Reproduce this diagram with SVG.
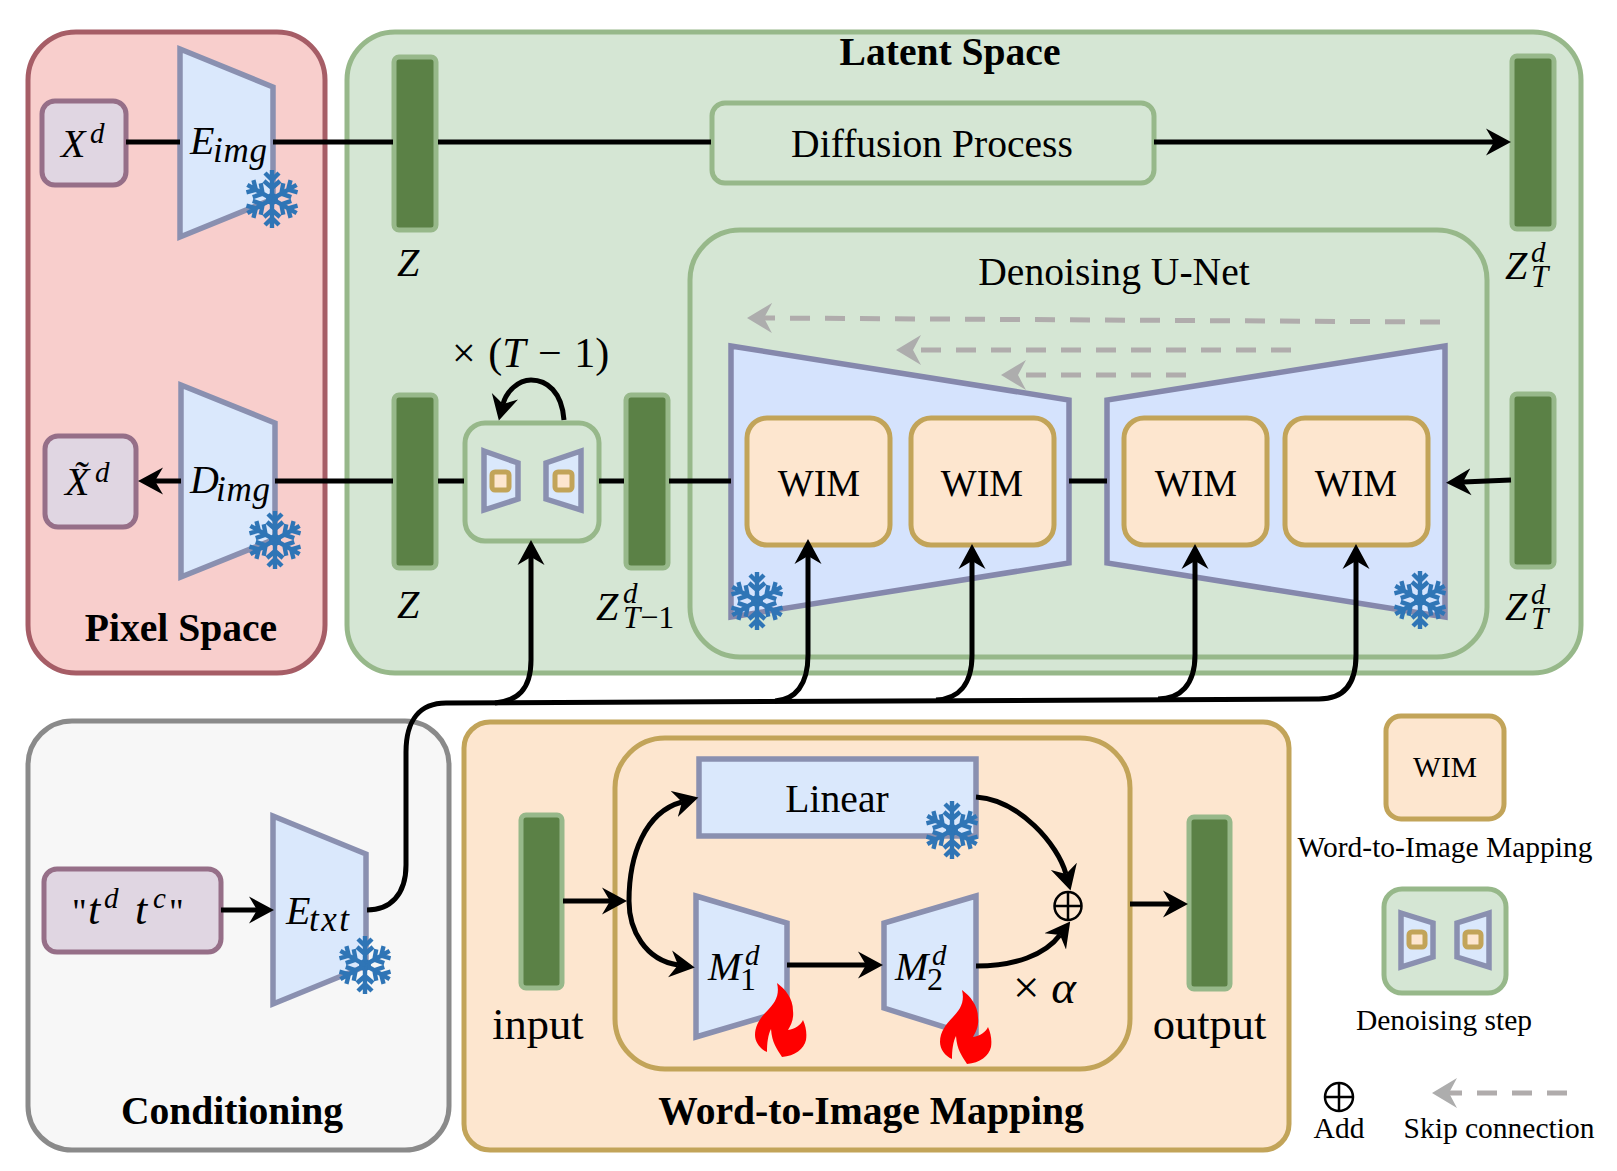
<svg xmlns="http://www.w3.org/2000/svg" width="1617" height="1171" viewBox="0 0 1617 1171">
<style>
text{font-family:"Liberation Serif","Times New Roman",serif;fill:#000}
.m{font-style:italic}
.r{font-style:normal}
.c{text-anchor:middle}
.b{font-weight:bold}
.t38{font-size:38px}.t395{font-size:39.6px}.t44{font-size:44.5px}.t29{font-size:29.5px}
.v{font-size:40px;font-style:italic}
.sup{font-size:29px}.sub{font-size:31px}.sub2{font-size:35px}
.bar{fill:#5B8146;stroke:#97B88A;stroke-width:5}
.trap{fill:#DAE8FC;stroke:#8A90B0;stroke-width:5.5;stroke-linejoin:miter}
.unet{fill:#D5E3FD;stroke:#8588AC;stroke-width:5.5}
.wim{fill:#FDE6CF;stroke:#C2A459;stroke-width:5}
.grn{fill:#D5E6D4;stroke:#97B88A;stroke-width:5}
.src{fill:#E0D6E2;stroke:#966F88;stroke-width:5}
.wire{fill:none;stroke:#000;stroke-width:5}
.arr{marker-end:url(#ah)}
.skip{fill:none;stroke:#B0ACAC;stroke-width:5;stroke-dasharray:20 15;marker-end:url(#gh)}
.plus{fill:none;stroke:#000;stroke-width:2.5}
</style>
<defs>
<marker id="ah" markerUnits="userSpaceOnUse" markerWidth="32" markerHeight="32" refX="8" refY="14" orient="auto"><path d="M0 0.5L25 14L0 27.5L8 14Z" fill="#000"/></marker>
<marker id="gh" markerUnits="userSpaceOnUse" markerWidth="32" markerHeight="34" refX="8" refY="15" orient="auto"><path d="M0 0L25 15L0 30L8 15Z" fill="#ADADAD"/></marker>
<g id="arm"><path d="M0 0V-29M0 -11L-8 -18M0 -11L8 -18M0 -19L-7 -26M0 -19L7 -26" fill="none" stroke="#2F75B6" stroke-width="4.4"/></g>
<g id="flake"><circle r="6" fill="#2F75B6"/><use href="#arm"/><use href="#arm" transform="rotate(60) scale(1 .98)"/><use href="#arm" transform="rotate(120) scale(1 .98)"/><use href="#arm" transform="rotate(180)"/><use href="#arm" transform="rotate(240) scale(1 .98)"/><use href="#arm" transform="rotate(300) scale(1 .98)"/></g>
<path id="flame" fill="#FF0000" d="M22 0C30 6 38 15 38 28C39 36 36 42 33 47C40 46 46 42 48 37C51 44 52 50 51 57C49 66 40 73 27 74C22 66 17 60 16 46C13 52 12 60 12 69C5 66 0 59 0 52C0 42 6 34 13 27C20 20 25 12 22 0Z"/>
</defs>

<g id="pixel-space"><rect x="28" y="32" width="297" height="641" rx="48" fill="#F8CECC" stroke="#A65D66" stroke-width="5"/>
<text x="181" y="640.5" class="c b t395">Pixel Space</text></g>
<g id="latent-space"><rect x="347" y="32" width="1234" height="641" rx="48" fill="#D5E6D4" stroke="#97B88A" stroke-width="5"/>
<text x="950" y="65" class="c b t395">Latent Space</text></g>
<g id="conditioning"><rect x="28" y="721" width="421" height="429" rx="44" fill="#F7F7F7" stroke="#8A8A8A" stroke-width="5"/>
<text x="232" y="1124" class="c b t395">Conditioning</text></g>
<g id="wim-panel"><rect x="464" y="722" width="825" height="428" rx="26" fill="#FDE6CF" stroke="#C2A459" stroke-width="5"/>
<rect x="615" y="738" width="515" height="331" rx="50" fill="none" stroke="#C2A459" stroke-width="5"/>
<text x="871" y="1124" class="c b t395">Word-to-Image Mapping</text></g>
<g id="unet-panel"><rect x="690" y="230" width="797" height="427" rx="50" fill="#D5E6D4" stroke="#97B88A" stroke-width="5"/>
<text x="1114" y="285" class="c t395">Denoising U-Net</text></g>

<g id="xd"><rect x="42" y="101" width="84" height="84" rx="13" class="src"/>
<text class="v"><tspan x="61" y="157">X</tspan><tspan x="90" y="143" class="sup">d</tspan></text></g>
<g id="e-img"><path d="M180 49L273 87V199L180 237Z" class="trap"/>
<text class="v"><tspan x="190" y="154">E</tspan><tspan x="213" y="162" class="sub2" textLength="54" lengthAdjust="spacing">img</tspan></text>
<use href="#flake" x="272" y="199"/></g>
<g id="x-tilde"><rect x="45" y="436" width="91" height="91" rx="13" class="src"/>
<text class="v"><tspan x="65" y="495">X̃</tspan><tspan x="95" y="482" class="sup">d</tspan></text></g>
<g id="d-img"><path d="M181 385L275 423V539L181 577Z" class="trap"/>
<text class="v"><tspan x="190" y="493">D</tspan><tspan x="216" y="501" class="sub2" textLength="54" lengthAdjust="spacing">img</tspan></text>
<use href="#flake" x="275" y="540"/></g>

<g id="z-top"><rect x="394" y="57" width="42" height="173" rx="5" class="bar"/><text x="397" y="276" class="v">Z</text></g>
<g id="z-bottom"><rect x="394" y="395" width="42" height="173" rx="5" class="bar"/><text x="397" y="618" class="v">Z</text></g>
<g id="diffusion"><rect x="712" y="103" width="442" height="80" rx="13" class="grn"/><text x="932" y="157" class="c t395">Diffusion Process</text></g>
<g id="zt-top"><rect x="1512" y="56" width="42" height="173" rx="5" class="bar"/>
<text class="v"><tspan x="1505" y="279">Z</tspan><tspan x="1531" y="262" class="sup">d</tspan><tspan x="1531" y="287" class="sub">T</tspan></text></g>
<g id="zt-bottom"><rect x="1512" y="394" width="42" height="173" rx="5" class="bar"/>
<text class="v"><tspan x="1505" y="620">Z</tspan><tspan x="1531" y="604" class="sup">d</tspan><tspan x="1531" y="629" class="sub">T</tspan></text></g>
<g id="zt1"><rect x="626" y="395" width="42" height="173" rx="5" class="bar"/>
<text class="v"><tspan x="596" y="620">Z</tspan><tspan x="623" y="603" class="sup">d</tspan><tspan x="623" y="628" class="sub" font-size="32">T</tspan><tspan class="r" font-size="32">−1</tspan></text></g>
<g id="step"><rect x="465" y="423" width="134" height="118" rx="20" class="grn"/>
<path d="M484 451L518 463V499L484 510Z" class="trap"/><path d="M581 451L546 463V499L581 510Z" class="trap"/>
<rect x="492" y="472" width="17" height="18" rx="3" class="wim"/><rect x="555" y="472" width="17" height="18" rx="3" class="wim"/>
<text x="452" y="367" font-size="42" word-spacing="2">× (<tspan class="m">T</tspan> − 1)</text></g>

<g id="unet-left"><path d="M731 346L1069 400V563L731 617Z" class="unet"/><use href="#flake" x="757" y="601"/></g>
<g id="unet-right"><path d="M1445 346L1107 400V563L1445 617Z" class="unet"/><use href="#flake" x="1420" y="600"/></g>
<g id="wim1"><rect x="747" y="418" width="143" height="127" rx="20" class="wim"/><text x="819" y="496" class="c t38">WIM</text></g>
<g id="wim2"><rect x="911" y="418" width="143" height="127" rx="20" class="wim"/><text x="982" y="496" class="c t38">WIM</text></g>
<g id="wim3"><rect x="1124" y="418" width="143" height="127" rx="20" class="wim"/><text x="1196" y="496" class="c t38">WIM</text></g>
<g id="wim4"><rect x="1285" y="418" width="143" height="127" rx="20" class="wim"/><text x="1356" y="496" class="c t38">WIM</text></g>

<g id="text-input"><rect x="44" y="869" width="177" height="83" rx="13" class="src"/>
<text class="v"><tspan x="72" y="924" class="r" font-size="36">"</tspan><tspan x="88" y="924" font-size="44">t</tspan><tspan x="104" y="908" class="sup">d</tspan><tspan x="135" y="924" font-size="44">t</tspan><tspan x="153" y="908" class="sup">c</tspan><tspan x="169" y="924" class="r" font-size="36">"</tspan></text></g>
<g id="e-txt"><path d="M273 816L366 854V966L273 1004Z" class="trap"/>
<text class="v"><tspan x="286" y="924">E</tspan><tspan x="309" y="931" class="sub2" textLength="40" lengthAdjust="spacing">txt</tspan></text>
<use href="#flake" x="365" y="965"/></g>

<g id="input"><rect x="521" y="815" width="41" height="173" rx="5" class="bar"/><text x="538" y="1039" class="c t44">input</text></g>
<g id="output"><rect x="1189" y="817" width="41" height="172" rx="5" class="bar"/><text x="1209.500" y="1039" class="c t44">output</text></g>
<g id="linear"><rect x="699" y="759" width="277" height="77" class="trap"/><text x="837" y="812" class="c t395">Linear</text><use href="#flake" x="952" y="830"/></g>
<g id="m1"><path d="M696 896L787 923V1010L696 1037Z" class="trap"/>
<text class="v"><tspan x="708" y="980">M</tspan><tspan x="745" y="965" class="sup">d</tspan><tspan x="740" y="990" font-size="32" class="r">1</tspan></text>
<use href="#flame" x="755" y="983"/></g>
<g id="m2"><path d="M976 896L884 923V1008L976 1037Z" class="trap"/>
<text class="v"><tspan x="895" y="980">M</tspan><tspan x="932" y="965" class="sup">d</tspan><tspan x="927" y="990" font-size="32" class="r">2</tspan></text>
<use href="#flame" x="940" y="990"/></g>
<g id="add"><ellipse cx="1068" cy="906" rx="13.500" ry="14" class="plus"/><path d="M1054.500 906H1081.500M1068 892V920" class="plus"/></g>
<text id="alpha" x="1013" y="1003" font-size="47">× <tspan class="m">α</tspan></text>

<g id="connectors">
<path class="wire" d="M126 142H180M273 142H393M438 142H711"/>
<path class="wire arr" d="M1154 142L1494 142"/>
<path class="wire arr" d="M181 481H155"/>
<path class="wire" d="M275 481H393M438 481H464M599 481H624M669 481H731M1069 481H1107"/>
<path class="wire arr" d="M1511 480L1463 482"/>
<path class="wire arr" d="M564 420C562 392 547 380 531 380C518 380 506 392 503 404"/>
<path class="wire arr" d="M221 910H257"/>
<path class="wire" d="M367 910C390 910 406 895 406 865V752C406 720 420 703 446 703L1319 699"/>
<path class="wire arr" d="M495 703C517 701 531 690 531 660V557"/>
<path class="wire arr" d="M775 701C795 700 808 685 808 655V556"/>
<path class="wire arr" d="M936 700C958 699 972 685 972 655V561"/>
<path class="wire arr" d="M1158 699C1180 699 1195 685 1195 655V561"/>
<path class="wire arr" d="M1319 699C1343 699 1356 685 1356 655V561"/>
<path class="wire arr" d="M563 901H610"/>
<path class="wire arr" d="M629 901C629 930 645 960 678 965"/>
<path class="wire arr" d="M629 901C629 855 645 812 682 802"/>
<path class="wire arr" d="M787 965H866"/>
<path class="wire arr" d="M976 797C1020 800 1058 845 1066 874"/>
<path class="wire arr" d="M976 966C1015 966 1045 955 1060 935"/>
<path class="wire arr" d="M1130 904H1171"/>
<path class="skip" d="M1440 322L764 318"/>
<path class="skip" d="M1291 350L913 350"/>
<path class="skip" d="M1186 375L1018 375"/>
</g>

<g id="legend-wim"><rect x="1386" y="716" width="118" height="103" rx="15" class="wim"/><text x="1445" y="777" class="c t29">WIM</text>
<text x="1445" y="857" class="c t29">Word-to-Image Mapping</text></g>
<g id="legend-step"><rect x="1384" y="889" width="122" height="104" rx="18" class="grn"/>
<path d="M1401 913L1433 923V957L1401 967Z" class="trap"/><path d="M1489 913L1457 923V957L1489 967Z" class="trap"/>
<rect x="1409" y="932" width="16" height="15" rx="3" class="wim"/><rect x="1465" y="932" width="16" height="15" rx="3" class="wim"/>
<text x="1444" y="1030" class="c t29">Denoising step</text></g>
<g id="legend-add"><circle cx="1339" cy="1097" r="14" class="plus"/><path d="M1325 1097H1353M1339 1083V1111" class="plus"/><text x="1339" y="1138" class="c t29">Add</text></g>
<g id="legend-skip"><path class="skip" d="M1567 1093H1449"/><text x="1499" y="1138" class="c t29">Skip connection</text></g>
</svg>
